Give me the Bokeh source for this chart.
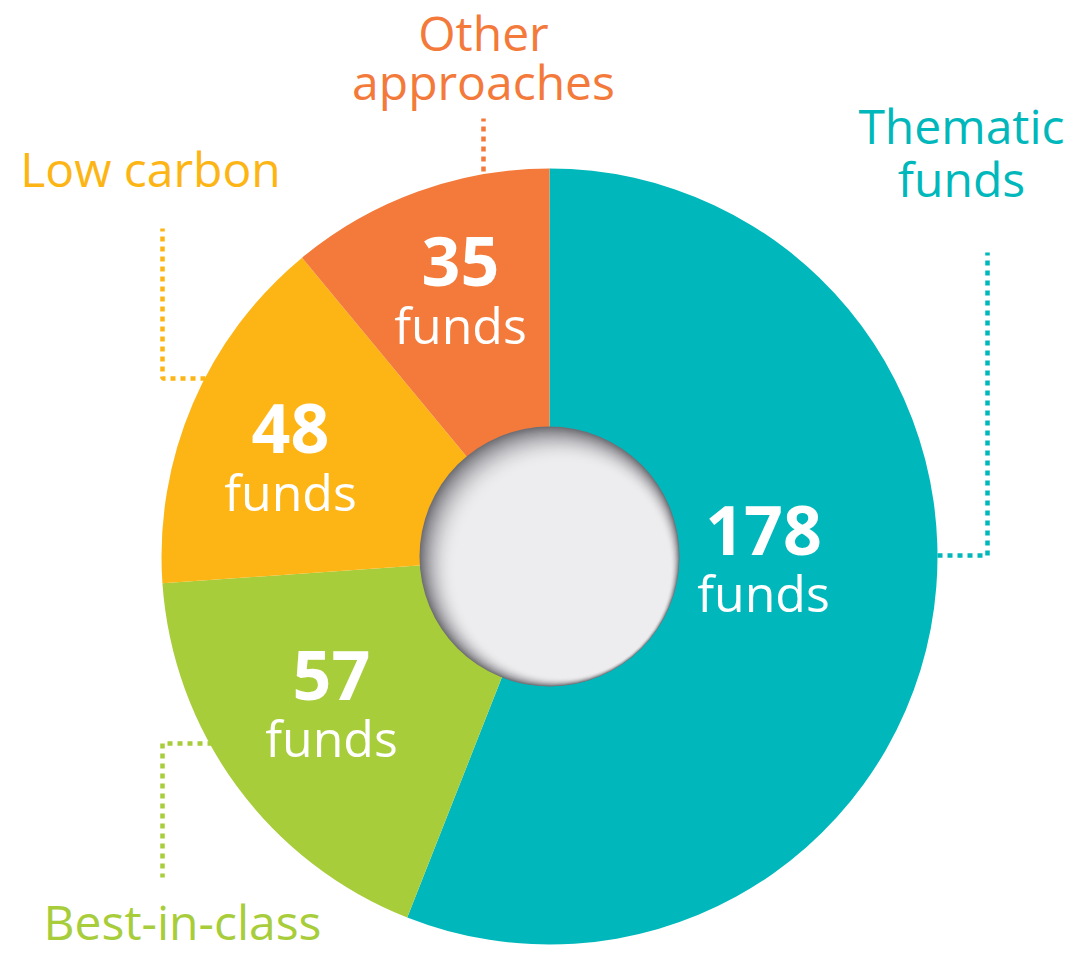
import numpy as np
from bokeh.plotting import figure
from bokeh.models import Range1d, ColumnDataSource
from bokeh.core.properties import value
from bokeh.embed import file_html
from bokeh.resources import INLINE

# ---- data ----
categories = ["Thematic funds", "Best-in-class", "Low carbon", "Other approaches"]
fund_counts = [178, 57, 48, 35]
colors = ["#00b8bb", "#a8cd3a", "#fdb515", "#f37a3a"]
title_lines = [["Thematic", "funds"], ["Best-in-class"], ["Low carbon"], ["Other", "approaches"]]

# ---- layout (reference pixel coords; data y = 955 - py) ----
W, H = 1092, 955
def Y(py):
    return H - py

CX, CY = 549, Y(556)
R_OUT, R_IN = 388, 130

p = figure(width=W, height=H, x_range=Range1d(0, W), y_range=Range1d(0, H),
           output_backend="svg", toolbar_location=None, min_border=0)
p.axis.visible = False
p.grid.visible = False
p.outline_line_color = None
p.background_fill_color = "white"
p.border_fill_color = "white"

vals = np.array(fund_counts, dtype=float)
frac = vals / vals.sum()
cum_after = np.cumsum(frac)
cum_before = cum_after - frac
start_ang = np.pi / 2 - 2 * np.pi * cum_after
end_ang = np.pi / 2 - 2 * np.pi * cum_before

src = ColumnDataSource(dict(start=start_ang, end=end_ang, color=colors))
p.annular_wedge(x=CX, y=CY, inner_radius=R_IN - 2, outer_radius=R_OUT,
                start_angle="start", end_angle="end", fill_color="color",
                line_color=None, source=src)

# ---- hole with inset shading (dark toward upper-left) ----
n = 30
g0, g1 = np.array([112, 112, 118]), np.array([237, 237, 239])
for i in range(n):
    t = i / (n - 1)
    e = 1 - (1 - t) ** 2.0
    c = (g0 + (g1 - g0) * e).astype(int)
    r = R_IN - t * 22
    off = t * 13
    p.circle(x=CX + off, y=CY - off, radius=r,
             fill_color="#%02x%02x%02x" % tuple(c), line_color=None)

# ---- leader lines (dotted) ----
def leader(xs, ys, color):
    p.line(x=xs, y=[Y(v) for v in ys], line_color=color, line_width=4.5,
           line_dash="5 5")

leader([937, 987, 987], [555, 555, 252], colors[0])
leader([212, 162, 162], [743, 743, 877], colors[1])
leader([205, 162, 162], [378, 378, 228], colors[2])
leader([483, 483], [171, 118], colors[3])

# text renders ~0.4em below the requested alphabetic baseline; compensate
def txt(x, py, s, color, size, bold=False):
    shift = {48: 20, 50: 23, 68: 26}[size]
    p.text(x=[x], y=[Y(py - shift)], text=[s], text_color=color,
           text_font=value("Open Sans"), text_font_style="bold" if bold else "normal",
           text_font_size=f"{size}px", text_align="center", text_baseline="alphabetic")

# ---- category titles ----
title_pos = [(961, [145, 198]), (182, [941]), (150, [188]), (483, [52, 101])]
for lines, (tx, tys), col in zip(title_lines, title_pos, colors):
    for ln, ty in zip(lines, tys):
        txt(tx, ty, ln, col, 48)

# ---- counts inside slices ----
count_pos = [(763, 556, 615), (331, 701, 760), (290, 454, 514), (460, 287, 347)]
for v, (tx, y1, y2) in zip(fund_counts, count_pos):
    txt(tx, y1, str(v), "white", 68, bold=True)
    txt(tx, y2, "funds", "white", 50)

open("out.html", "w").write(file_html(p, INLINE))
